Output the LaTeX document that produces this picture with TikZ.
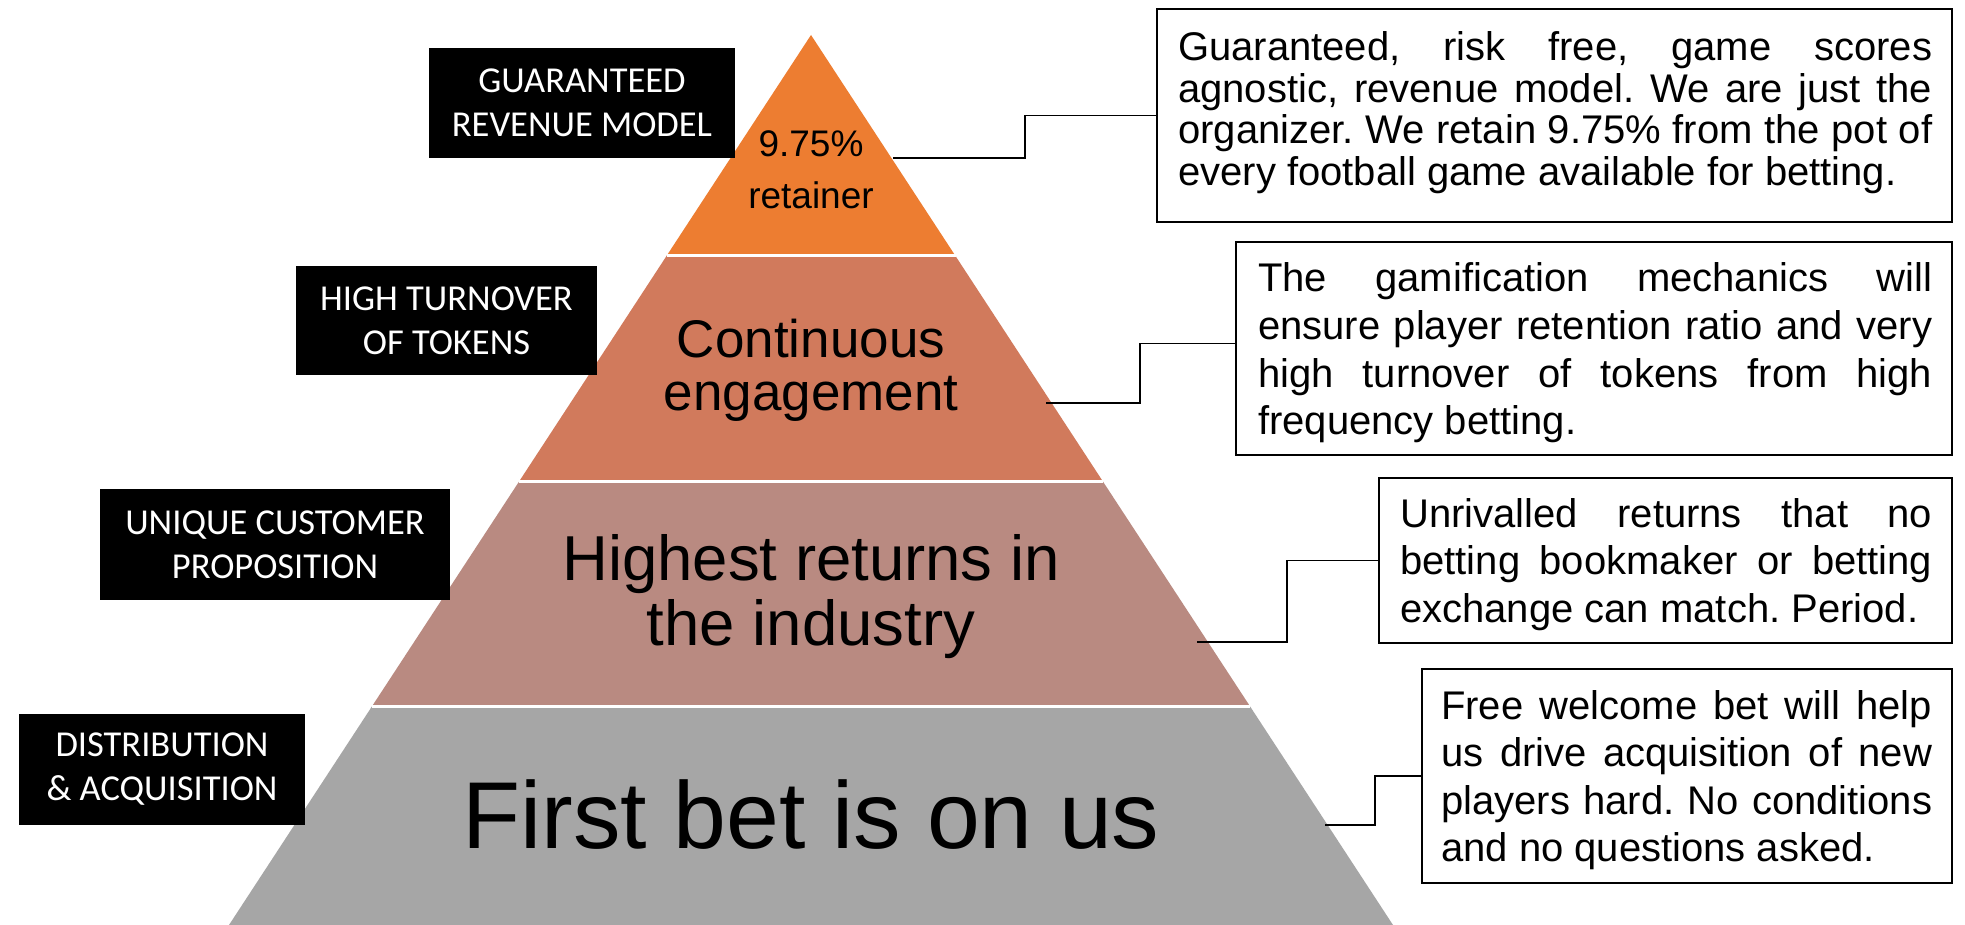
\documentclass[tikz,border=0pt]{standalone}
\usepackage{fontspec}
\setmainfont{Liberation Sans}
\newfontfamily\calfont{Carlito}
\definecolor{layerA}{RGB}{237,125,49}
\definecolor{layerB}{RGB}{209,122,92}
\definecolor{layerC}{RGB}{185,138,129}
\definecolor{layerD}{RGB}{166,166,166}
\newcommand{\jstline}[2]{\makebox[#1pt][s]{#2}}
\tikzset{
  tag/.style={fill=black, text=white, font=\calfont\fontsize{36.5}{44}\selectfont, align=center, inner sep=0pt},
  note/.style={draw=black, line width=2.4pt, fill=white, inner sep=0pt},
  txt/.style={anchor=base west, inner sep=0pt, font=\fontsize{40}{47.5}\selectfont},
  link/.style={draw=black, line width=1.6pt},
  gap/.style={draw=white, line width=3pt},
  lvl/.style={anchor=base, inner sep=0pt, text=black},
}
\begin{document}
\frenchspacing
\begin{tikzpicture}[x=1pt,y=-1pt]
\useasboundingbox[fill=white] (0,0) rectangle (1965,925);
% pyramid corners
\coordinate (apex) at (811,35);
\coordinate (l1) at (666.5,256); \coordinate (r1) at (955.5,256);
\coordinate (l2) at (519.4,481); \coordinate (r2) at (1102.6,481);
\coordinate (l3) at (372.2,706); \coordinate (r3) at (1249.8,706);
\coordinate (l4) at (229,925);   \coordinate (r4) at (1393,925);
\fill[layerA] (apex) -- (r1) -- (l1) -- cycle;
\fill[layerB] (l1) -- (r1) -- (r2) -- (l2) -- cycle;
\fill[layerC] (l2) -- (r2) -- (r3) -- (l3) -- cycle;
\fill[layerD] (l3) -- (r3) -- (r4) -- (l4) -- cycle;
\draw[gap] (l1) -- (r1);
\draw[gap] (l2) -- (r2);
\draw[gap] (l3) -- (r3);
% pyramid texts
\node[lvl, font=\fontsize{37}{44}\selectfont] (t1a) at (811,157) {9.75\%};
\node[lvl, font=\fontsize{37}{44}\selectfont] (t1b) at (811,209) {retainer};
\node[lvl, font=\fontsize{53}{60}\selectfont] (t2a) at (811,357) {Continuous};
\node[lvl, font=\fontsize{53}{60}\selectfont] (t2b) at (811,410) {engagement};
\node[lvl, font=\fontsize{63.5}{70}\selectfont] (t3a) at (811,580) {Highest returns in};
\node[lvl, font=\fontsize{63.5}{70}\selectfont] (t3b) at (811,645) {the industry};
\node[lvl, font=\fontsize{95}{100}\selectfont] (t4) at (811,848) {First bet is on us};
% left tags
\node[tag, minimum width=306pt, minimum height=110pt] (tagA) at (582,103) {GUARANTEED\\REVENUE MODEL};
\node[tag, minimum width=301pt, minimum height=109pt] (tagB) at (446.5,320.5) {HIGH TURNOVER\\OF TOKENS};
\node[tag, minimum width=350pt, minimum height=111pt] (tagC) at (275,544.5) {UNIQUE CUSTOMER\\PROPOSITION};
\node[tag, minimum width=286pt, minimum height=111pt] (tagD) at (162,769.5) {DISTRIBUTION\\\& ACQUISITION};
% right notes (frames)
\node[note, minimum width=795pt, minimum height=213pt] (box1) at (1554.5,115.5) {};
\node[note, minimum width=716pt, minimum height=213pt] (box2) at (1594,348.5) {};
\node[note, minimum width=573pt, minimum height=165pt] (box3) at (1665.5,560.5) {};
\node[note, minimum width=530pt, minimum height=214pt] (box4) at (1687,776) {};
% note texts
\node[txt] (b1a) at (1178,61)    {\jstline{754}{Guaranteed, risk free, game scores}};
\node[txt] (b1b) at (1178,102.5) {\jstline{754}{agnostic, revenue model. We are just the}};
\node[txt] (b1c) at (1178,144)   {\jstline{754}{organizer. We retain 9.75\% from the pot of}};
\node[txt] (b1d) at (1178,185.5) {every football game available for betting.};
\node[txt] (b2a) at (1258,292) {\jstline{674}{The gamification mechanics will}};
\node[txt] (b2b) at (1258,339) {\jstline{674}{ensure player retention ratio and very}};
\node[txt] (b2c) at (1258,387) {\jstline{674}{high turnover of tokens from high}};
\node[txt] (b2d) at (1258,434) {frequency betting.};
\node[txt] (b3a) at (1400,527) {\jstline{532}{Unrivalled returns that no}};
\node[txt] (b3b) at (1400,574) {\jstline{532}{betting bookmaker or betting}};
\node[txt] (b3c) at (1400,622) {exchange can match. Period.};
\node[txt] (b4a) at (1441,719) {\jstline{491}{Free welcome bet will help}};
\node[txt] (b4b) at (1441,766) {\jstline{491}{us drive acquisition of new}};
\node[txt] (b4c) at (1441,814) {\jstline{491}{players hard. No conditions}};
\node[txt] (b4d) at (1441,861) {and no questions asked.};
% connectors
\coordinate (p1) at (893,158);
\coordinate (p2) at (1046,403);
\coordinate (p3) at (1197,642);
\coordinate (p4) at (1325,825);
\draw[link] (p1) -- ++(132,0) |- (box1.west);
\draw[link] (p2) -- ++(94,0) |- ([yshift=5pt]box2.west);
\draw[link] (p3) -- ++(90,0) |- (box3.west);
\draw[link] (p4) -- ++(50,0) |- (box4.west);
\end{tikzpicture}
\end{document}
